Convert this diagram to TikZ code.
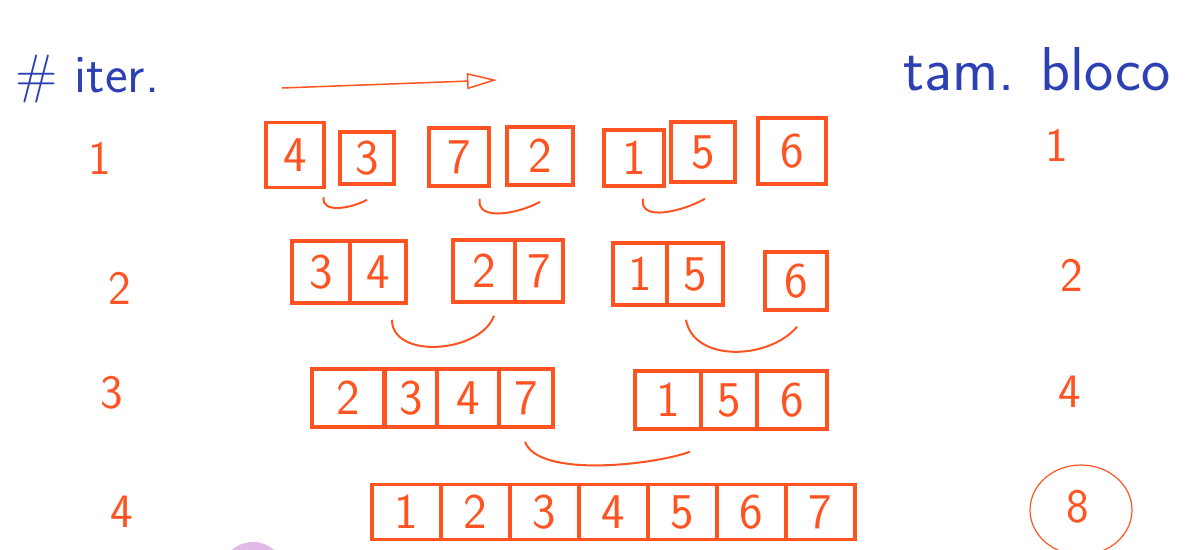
\documentclass[tikz,border=0pt]{standalone}
\usepackage{fontspec}
\usetikzlibrary{arrows.meta}
\definecolor{pen}{RGB}{255,84,34}
\definecolor{ink}{RGB}{45,65,180}
\definecolor{blob}{RGB}{226,186,232}

\begin{document}
\begin{tikzpicture}[x=1pt,y=-1pt,
  cell/.style={draw=pen, line width=3.5pt, text=pen, inner sep=0pt, minimum height=58pt, font=\sffamily\fontsize{50}{50}\selectfont},
  num/.style={text=pen, font=\sffamily\fontsize{48}{48}\selectfont},
  head/.style={text=ink, font=\sffamily\fontsize{#1}{#1}\selectfont},
  merge/.style={draw=pen, line width=2pt}]
\useasboundingbox (0,0) rectangle (1193,549);

\node[head=54, anchor=base west] (H1) at (12,92) {\# iter.};
\node[head=62, anchor=base] (H2) at (1037,90) {tam. bloco};

\coordinate (P) at (282,88);
\coordinate (Q) at (497,80);
\draw[pen, line width=1.5pt, -{Triangle[open,length=30pt,width=16pt]}] (P) -- (Q);

\node[num] (L1) at (100,158) {1};
\node[num] (L2) at (120,288) {2};
\node[num] (L3) at (112,393) {3};
\node[num] (L4) at (122,512) {4};

\node[num] (R1) at (1057,145) {1};
\node[num] (R2) at (1072,275) {2};
\node[num] (R3) at (1070,392) {4};
\node[num] (R4) at (1078,507) {8};
\draw[pen, line width=1.2pt] (1081,510) ellipse [x radius=51pt, y radius=45pt];

\node[cell, minimum width=58pt, minimum height=65pt] (A1) at (295,155) {4};
\node[cell, minimum width=54pt, minimum height=52pt] (A2) at (367,158) {3};
\node[cell, minimum width=60pt] (A3) at (459,157) {7};
\node[cell, minimum width=66pt] (A4) at (540,156) {2};
\node[cell, minimum width=60pt, minimum height=56pt] (A5) at (634,158) {1};
\node[cell, minimum width=64pt, minimum height=60pt] (A6) at (703,152) {5};
\node[cell, minimum width=68pt, minimum height=66pt] (A7) at (792,151) {6};

\node[cell, minimum width=58pt, minimum height=62pt] (B1) at (321,272) {3};
\node[cell, minimum width=56pt, minimum height=62pt] (B2) at (378,272) {4};
\node[cell, minimum width=62pt, minimum height=62pt] (B3) at (484,271) {2};
\node[cell, minimum width=48pt, minimum height=62pt] (B4) at (539,271) {7};
\node[cell, minimum width=54pt, minimum height=62pt] (B5) at (640,274) {1};
\node[cell, minimum width=56pt, minimum height=62pt] (B6) at (695,274) {5};
\node[cell, minimum width=62pt] (B7) at (796,281) {6};

\node[cell, minimum width=72pt] (C1) at (348,398) {2};
\node[cell, minimum width=52pt] (C2) at (411,398) {3};
\node[cell, minimum width=62pt] (C3) at (468,398) {4};
\node[cell, minimum width=54pt] (C4) at (526,398) {7};
\node[cell, minimum width=66pt] (C5) at (668,400) {1};
\node[cell, minimum width=56pt] (C6) at (729,400) {5};
\node[cell, minimum width=70pt] (C7) at (792,400) {6};

\node[cell, minimum width=69pt, minimum height=55pt] (D1) at (406.5,512) {1};
\node[cell, minimum width=69pt, minimum height=55pt] (D2) at (475.5,512) {2};
\node[cell, minimum width=69pt, minimum height=55pt] (D3) at (544.5,512) {3};
\node[cell, minimum width=69pt, minimum height=55pt] (D4) at (613.5,512) {4};
\node[cell, minimum width=69pt, minimum height=55pt] (D5) at (682.5,512) {5};
\node[cell, minimum width=69pt, minimum height=55pt] (D6) at (751.5,512) {6};
\node[cell, minimum width=69pt, minimum height=55pt] (D7) at (820.5,512) {7};

\draw[merge] ([xshift=-2pt,yshift=-8pt]A1.south east) to[out=-100,in=-150] ([yshift=-14pt]A2.south);
\draw[merge] ([xshift=-11pt,yshift=-11pt]A3.south east) to[out=-100,in=-150] ([yshift=-15pt]A4.south);
\draw[merge] ([xshift=9pt,yshift=-11pt]A5.south) to[out=-100,in=-150] ([xshift=2pt,yshift=-15pt]A6.south);

\draw[merge] ([xshift=14pt,yshift=-15pt]B2.south) to[out=-90,in=-110] ([xshift=10pt,yshift=-12pt]B3.south);
\draw[merge] ([xshift=-9pt,yshift=-13pt]B6.south) to[out=-80,in=-130] ([xshift=1pt,yshift=-15pt]B7.south);

\draw[merge] ([xshift=-1pt,yshift=-13pt]C4.south) to[out=-70,in=-160,looseness=0.6] ([xshift=22pt,yshift=-21pt]C5.south);

\fill[blob] (253,574) circle [radius=32pt];
\end{tikzpicture}
\end{document}
